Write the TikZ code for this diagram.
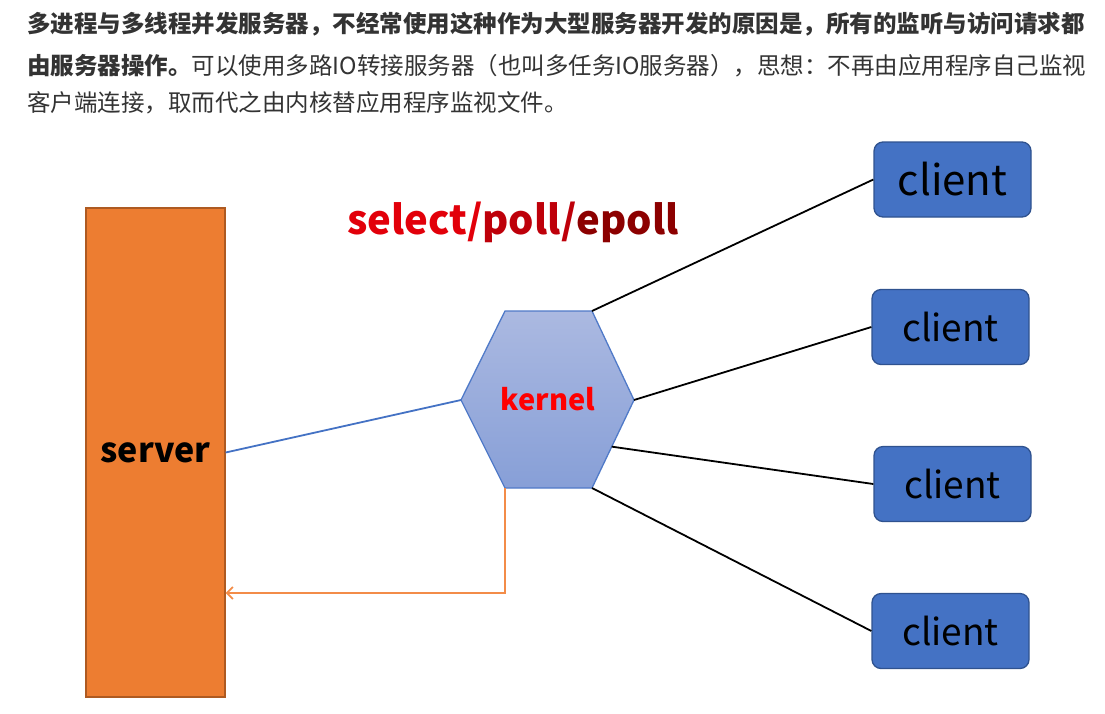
\documentclass[tikz,border=0pt]{standalone}
\usepackage{fontspec}
\setmainfont{Noto Sans CJK SC}
\usepackage{xcolor}
\usetikzlibrary{arrows.meta, positioning, calc}
\definecolor{srvorange}{RGB}{237,125,49}
\definecolor{srvborder}{RGB}{174,90,33}
\definecolor{clientblue}{RGB}{68,114,196}
\definecolor{clientborder}{RGB}{47,82,143}
\definecolor{hextop}{RGB}{171,185,225}
\definecolor{hexbot}{RGB}{135,159,215}
\definecolor{hexborder}{RGB}{80,122,200}
\definecolor{textgray}{RGB}{51,51,51}
\definecolor{backorange}{RGB}{243,140,72}
\definecolor{selred}{RGB}{226,0,10}
\definecolor{selmid}{RGB}{190,0,10}
\definecolor{seldark}{RGB}{140,0,0}

\tikzset{
  bodytext/.style={anchor=base west, inner sep=0pt, text=textgray, font=\fontsize{23.5}{28}\selectfont},
  clientbox/.style={draw=clientborder, line width=1.3pt, fill=clientblue, rounded corners=9pt,
    minimum width=157pt, minimum height=75pt, inner sep=0pt, font=\fontsize{37}{42}\selectfont},
  link/.style={line width=1.8pt, black},
}

\begin{document}
\begin{tikzpicture}[x=1pt, y=-1pt]
    \useasboundingbox (0,0) rectangle (1105,713);

    % testo sopra
    \node[bodytext] (riga1) at (27,32)
        {\textbf{多进程与多线程并发服务器，不经常使用这种作为大型服务器开发的原因是，所有的监听与访问请求都}};
    \node[bodytext] (riga2) at (27,74)
        {\textbf{由服务器操作。}可以使用多路IO转接服务器（也叫多任务IO服务器），思想：不再由应用程序自己监视};
    \node[bodytext] (riga3) at (27,111)
        {客户端连接，取而代之由内核替应用程序监视文件。};

    % server
    \node[draw=srvborder, line width=1.3pt, fill=srvorange, minimum width=139pt, minimum height=489pt,
        inner sep=0pt, font=\fontsize{34}{40}\selectfont\bfseries] (server) at (155.5,452.5) {server};

    % esagono kernel
    \coordinate (kl) at (461,400);
    \coordinate (ktl) at (505,311);
    \coordinate (ktr) at (592,311);
    \coordinate (kr) at (634,400);
    \coordinate (kbr) at (592,488);
    \coordinate (kbl) at (505,488);
    \shade[top color=hextop, bottom color=hexbot, draw=hexborder, line width=1.3pt]
        (kl) -- (ktl) -- (ktr) -- (kr) -- (kbr) -- (kbl) -- cycle;
    \node[text=red, font=\fontsize{29}{32}\selectfont\bfseries] (kernel) at (548,399) {kernel};
    \coordinate (kside) at ($(kr)!0.53!(kbr)$);

    \node[font=\fontsize{40}{44}\selectfont\bfseries] (titolo) at (513,222)
        {\textcolor{selred}{select/}\textcolor{selmid}{poll/}\textcolor{seldark}{epoll}};

    % client
    \node[clientbox, font=\fontsize{42}{46}\selectfont] (c1) at (952.5,179.5) {client};
    \node[clientbox] (c2) at (950.5,327) {client};
    \node[clientbox] (c3) at (952.5,484) {client};
    \node[clientbox] (c4) at (950.5,631) {client};

    % collegamenti
    \draw[line width=1.8pt, clientblue] (server.east) -- (kl);
    \draw[link] (ktr) -- (c1.west);
    \draw[link] (kr) -- (c2.west);
    \draw[link] (kside) -- (c3.west);
    \draw[link] (kbr) -- (c4.west);

    % freccia di ritorno
    \draw[line width=1.8pt, backorange, -{Straight Barb[length=6pt, width=12pt]}]
        (kbl) -- (505,593) -- (server.east |- 0,593);
\end{tikzpicture}
\end{document}
